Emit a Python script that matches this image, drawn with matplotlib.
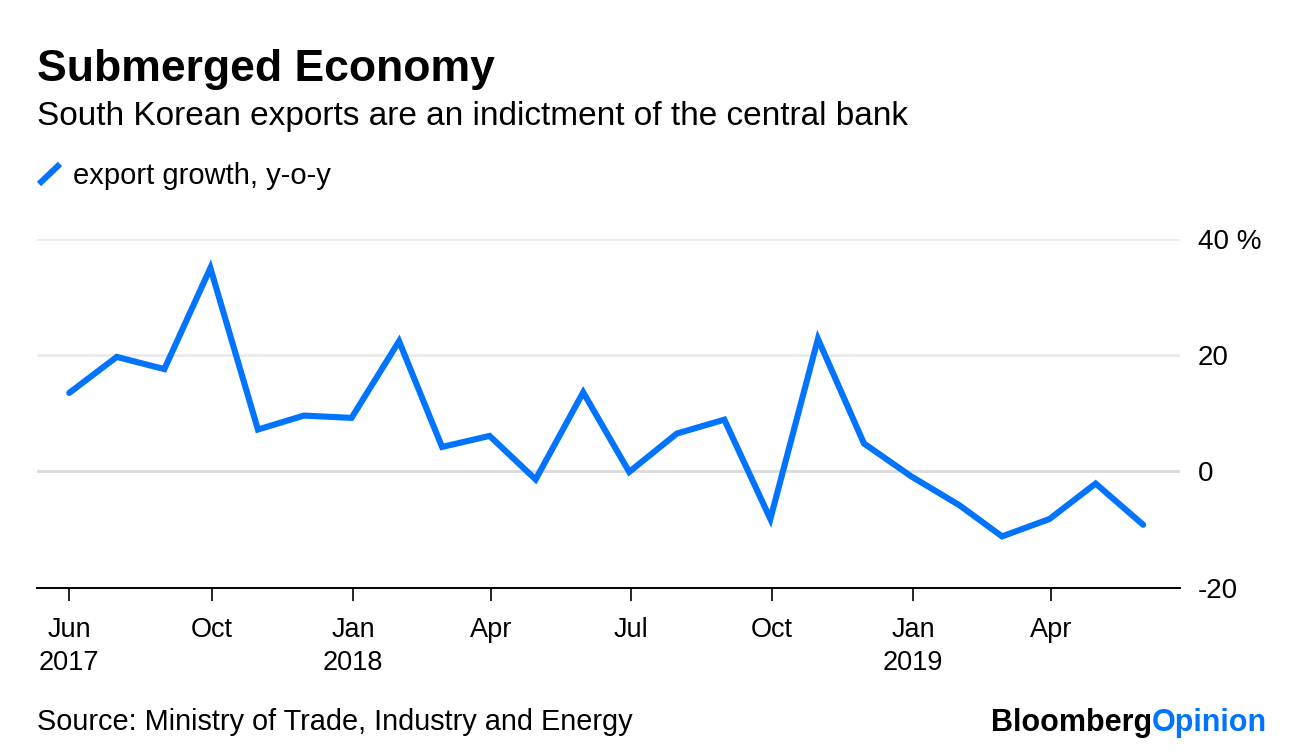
import matplotlib
matplotlib.use("Agg")
import matplotlib.pyplot as plt
import pandas as pd

# monthly export growth, y-o-y (%), Jun 2017 - May 2019
months = pd.date_range("2017-06-30", periods=24, freq="ME")
growth = [13.5, 19.7, 17.6, 35.0, 7.2, 9.6, 9.2, 22.4,
          4.2, 6.1, -1.4, 13.6, -0.1, 6.5, 8.9, -8.2,
          22.8, 4.8, -0.9, -5.8, -11.2, -8.2, -2.1, -9.2]

tick_dates = ["2017-06-30", "2017-10-01", "2018-01-01", "2018-04-01",
              "2018-07-01", "2018-10-01", "2019-01-01", "2019-04-01"]
tick_labels = ["Jun\n2017", "Oct", "Jan\n2018", "Apr",
               "Jul", "Oct", "Jan\n2019", "Apr"]
y_ticks = [-20, 0, 20, 40]
y_labels = ["-20", "0", "20", "40 %"]

blue = "#0073ff"
plt.rcParams["font.family"] = ["Liberation Sans", "DejaVu Sans"]

fig = plt.figure(figsize=(12.96, 7.54), dpi=100)
W, H = 1296, 754
ax = fig.add_axes([37 / W, 1 - 587.5 / H, (1180 - 37) / W, (587.5 - 239) / H])

ax.plot(months, growth, color=blue, linewidth=4.4, solid_joinstyle="miter",
        solid_capstyle="round", zorder=3)

ax.set_ylim(-20, 40)
ax.set_xlim(pd.Timestamp("2017-06-09"), pd.Timestamp("2019-06-24"))

for y in [0, 20, 40]:
    ax.axhline(y, color="#dadada" if y == 0 else "#ebebeb", linewidth=2, zorder=1)

for s in ["top", "left", "right"]:
    ax.spines[s].set_visible(False)
ax.spines["bottom"].set_color("black")
ax.spines["bottom"].set_linewidth(1.4)

ax.set_xticks([pd.Timestamp(d) for d in tick_dates])
ax.set_xticklabels(tick_labels, fontsize=19.5, linespacing=1.35)
ax.tick_params(axis="x", length=9, width=1.2, color="black", pad=12)

ax.yaxis.tick_right()
ax.set_yticks(y_ticks)
ax.set_yticklabels(y_labels, fontsize=20, ha="left")
ax.tick_params(axis="y", length=0, pad=13)

fig.text(37 / W, 1 - 81 / H, "Submerged Economy", fontsize=32,
         fontweight="bold", va="baseline")
fig.text(37 / W, 1 - 125 / H, "South Korean exports are an indictment of the central bank",
         fontsize=24, va="baseline")

fig.add_artist(plt.Line2D([39 / W, 60 / W], [1 - 184 / H, 1 - 164 / H],
                          color=blue, linewidth=4.4, solid_capstyle="butt"))
fig.text(73 / W, 1 - 184 / H, "export growth, y-o-y", fontsize=21, va="baseline")

fig.text(37 / W, 1 - 730 / H, "Source: Ministry of Trade, Industry and Energy",
         fontsize=20.8, va="baseline")
t = fig.text(1267 / W, 1 - 731 / H, "Opinion", fontsize=22, fontweight="bold",
             color=blue, ha="right", va="baseline")
fig.canvas.draw()
bb = t.get_window_extent()
fig.text(bb.x0 / W, 1 - 731 / H, "Bloomberg", fontsize=22, fontweight="bold",
         color="black", ha="right", va="baseline")

fig.savefig("out.png", dpi=100)
